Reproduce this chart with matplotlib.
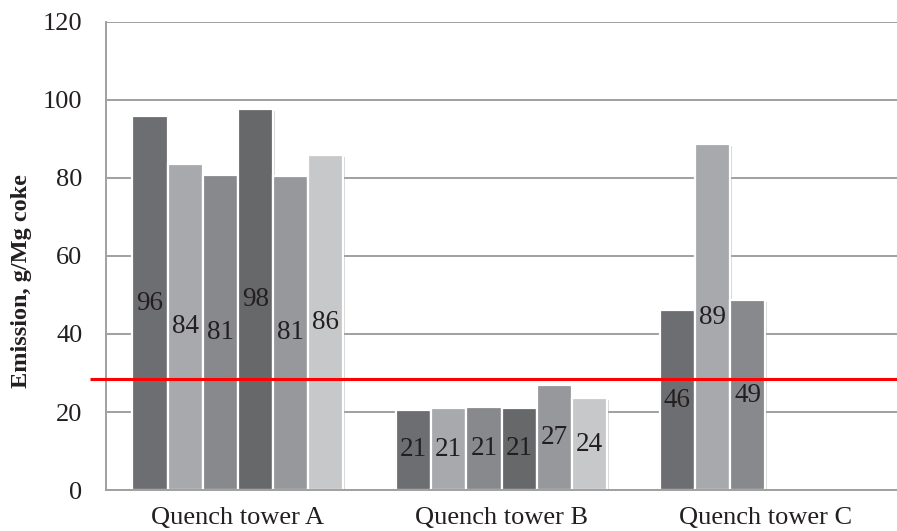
import matplotlib
matplotlib.use("Agg")
import matplotlib.pyplot as plt
import matplotlib.patheffects as pe
import numpy as np

# Dados (g/Mg coke)
torres = ["Quench tower A", "Quench tower B", "Quench tower C"]
torre_a = [95.8, 83.6, 80.8, 97.6, 80.6, 85.8]
torre_b = [20.6, 20.9, 21.2, 21.1, 26.8, 23.5]
torre_c = [46.1, 88.6, 48.6]
limite = 28.5

cores = ["#6d6e72", "#a8a9ad", "#88898d", "#67686a", "#97989c", "#c7c8ca"]

plt.rcParams["font.family"] = ["Liberation Serif", "DejaVu Serif"]

fig = plt.figure(figsize=(8.97, 5.31), dpi=100)
ax = fig.add_axes([0.1182, 0.0772, 0.8818, 0.8814])

n_slots = 6
largura = 0.8 / n_slots
sombra = [pe.SimplePatchShadow(offset=(1.2, -1.2), shadow_rgbFace="0.55", alpha=0.35),
          pe.Normal()]

for i, valores in enumerate([torre_a, torre_b, torre_c]):
    for j, v in enumerate(valores):
        x = i - 0.4 + largura * (j + 0.5)
        barra = ax.bar(x, v, width=largura, color=cores[j], edgecolor="white",
                       linewidth=1.6, zorder=2)
        barra[0].set_path_effects(sombra)
        ax.text(x, v / 2, f"{v:.0f}", ha="center", va="center", fontsize=19.5,
                color="#231f20", zorder=4)

# Linha de referência vermelha
ax.plot([-0.56, 2.5], [limite, limite], color="#ff0000", linewidth=2.2,
        zorder=3, clip_on=False, solid_capstyle="butt")

ax.set_xlim(-0.5, 2.5)
ax.set_ylim(0, 120)
ax.set_yticks(np.arange(0, 121, 20))
ax.set_xticks(range(len(torres)))
ax.set_xticklabels(torres)
ax.tick_params(axis="both", length=0, labelsize=19, colors="#231f20")
ax.tick_params(axis="y", pad=17)
ax.tick_params(axis="x", pad=12)

ax.grid(axis="y", color="#a0a0a0", linewidth=1.4, zorder=0)
ax.set_axisbelow(True)
for lado in ["top", "right"]:
    ax.spines[lado].set_visible(False)
for lado in ["left", "bottom"]:
    ax.spines[lado].set_color("#a0a0a0")
    ax.spines[lado].set_linewidth(1.4)

ax.set_ylabel("Emission, g/Mg coke", fontsize=17.5, fontweight="bold",
              color="#231f20")
ax.yaxis.set_label_coords(-0.094, 0.447)

fig.savefig("out.png", dpi=100)
